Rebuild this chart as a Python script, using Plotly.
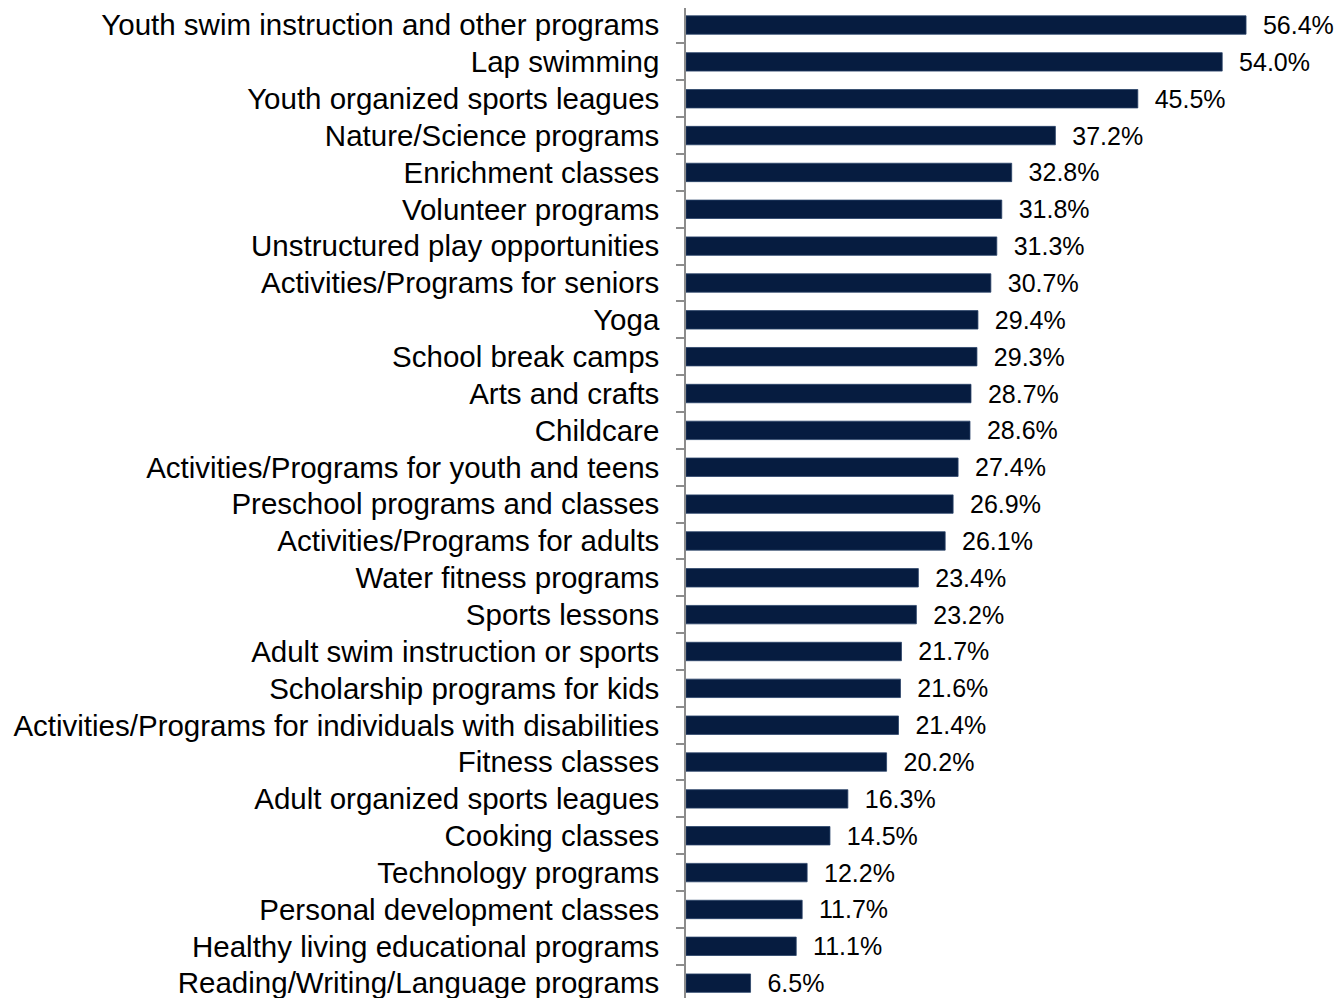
import plotly.graph_objects as go

categories = [
    "Youth swim instruction and other programs",
    "Lap swimming",
    "Youth organized sports leagues",
    "Nature/Science programs",
    "Enrichment classes",
    "Volunteer programs",
    "Unstructured play opportunities",
    "Activities/Programs for seniors",
    "Yoga",
    "School break camps",
    "Arts and crafts",
    "Childcare",
    "Activities/Programs for youth and teens",
    "Preschool programs and classes",
    "Activities/Programs for adults",
    "Water fitness programs",
    "Sports lessons",
    "Adult swim instruction or sports",
    "Scholarship programs for kids",
    "Activities/Programs for individuals with disabilities",
    "Fitness classes",
    "Adult organized sports leagues",
    "Cooking classes",
    "Technology programs",
    "Personal development classes",
    "Healthy living educational programs",
    "Reading/Writing/Language programs",
]
values = [56.4, 54.0, 45.5, 37.2, 32.8, 31.8, 31.3, 30.7, 29.4, 29.3, 28.7, 28.6,
          27.4, 26.9, 26.1, 23.4, 23.2, 21.7, 21.6, 21.4, 20.2, 16.3, 14.5, 12.2,
          11.7, 11.1, 6.5]
value_labels = [f"{v:.1f}%" for v in values]

fig = go.Figure()
fig.add_trace(go.Bar(
    y=categories,
    x=values,
    orientation="h",
    marker=dict(color="#061c40", line=dict(color="#2a4368", width=0.8)),
    text=["  " + t for t in value_labels],
    textposition="outside",
    constraintext="none",
    textfont=dict(family="Liberation Sans, Arial, sans-serif", size=25, color="#000000"),
    cliponaxis=False,
    width=0.5,
))

fig.update_layout(
    width=1343,
    height=998,
    margin=dict(l=678, r=0, t=0, b=0, autoexpand=False),
    paper_bgcolor="white",
    plot_bgcolor="white",
    showlegend=False,
    font=dict(family="Liberation Sans, Arial, sans-serif", color="#000000"),
)
fig.update_xaxes(
    range=[0, 66.97],
    visible=False,
    showgrid=False,
    zeroline=False,
    automargin=False,
)
fig.update_yaxes(
    categoryorder="array",
    categoryarray=categories,
    range=[26.62, -0.462],
    automargin=False,
    showgrid=False,
    zeroline=False,
    showline=True,
    linecolor="#8c8c8c",
    linewidth=1.5,
    ticks="outside",
    tickson="boundaries",
    ticklen=8,
    tickcolor="#8c8c8c",
    tickwidth=1.5,
    tickfont=dict(family="Liberation Sans, Arial, sans-serif", size=29.5, color="#000000"),
    ticklabelstandoff=19,
)

fig.write_html("out.html")
